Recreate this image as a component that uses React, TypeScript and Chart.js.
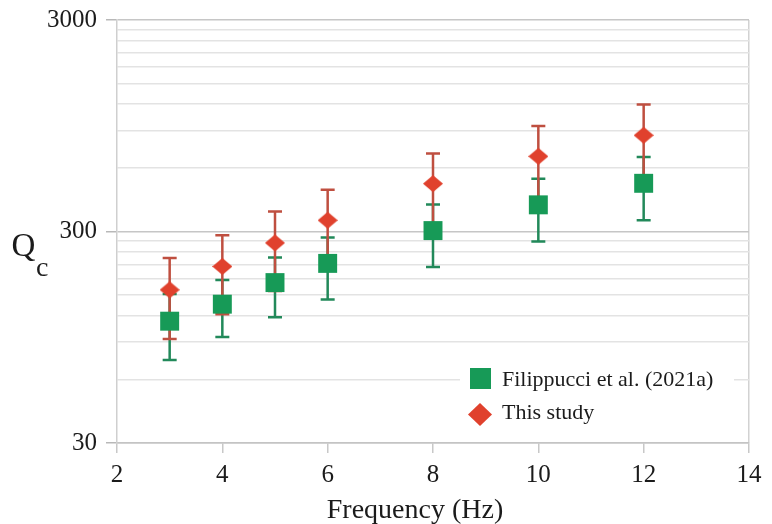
import React, { useEffect, useRef } from 'react';
import { Chart, registerables } from 'chart.js';

Chart.register(...registerables);

// ---- data ----
const frequencies = [3, 4, 5, 6, 8, 10, 12];
const filippucciQc = [113, 136, 172, 212, 303, 401, 507];
const filippucciErr = [39, 41, 54, 69, 99, 132, 168];
const thisStudyQc = [159, 205, 265, 339, 505, 680, 855];
const thisStudyErr = [66, 83, 108, 134, 197, 266, 339];
const xTickValues = [2, 4, 6, 8, 10, 12, 14];
const yGridValues = [30, 60, 90, 120, 150, 180, 210, 240, 270, 300, 600, 900, 1200, 1500, 1800, 2100, 2400, 2700, 3000];
const yLabelValues = [30, 300, 3000];
const seriesNames = ['Filippucci et al. (2021a)', 'This study'];
const xTitle = 'Frequency (Hz)';

// ---- styles ----
const GREEN = '#179a57';
const GREEN_ERR = '#22895a';
const RED = '#e0412d';
const RED_ERR = '#bf4f40';
const SERIF = '"Liberation Serif", "Times New Roman", serif';
const TEXT = '#1b1b1b';

function makeDiamond(w: number, h: number, color: string) {
  const c = document.createElement('canvas');
  c.width = w;
  c.height = h;
  const g = c.getContext('2d')!;
  g.fillStyle = color;
  g.beginPath();
  g.moveTo(w / 2, 0);
  g.lineTo(w, h / 2);
  g.lineTo(w / 2, h);
  g.lineTo(0, h / 2);
  g.closePath();
  g.fill();
  return c;
}

const errorBarPlugin = {
  id: 'errorBars',
  beforeDatasetsDraw(chart: any) {
    const ctx = chart.ctx;
    const xs = chart.scales.x;
    const ys = chart.scales.y;
    const draw = (vals: number[], errs: number[], color: string) => {
      ctx.save();
      ctx.strokeStyle = color;
      ctx.lineWidth = 2.5;
      frequencies.forEach((f, i) => {
        const x = xs.getPixelForValue(f);
        const yt = ys.getPixelForValue(vals[i] + errs[i]);
        const yb = ys.getPixelForValue(vals[i] - errs[i]);
        ctx.beginPath();
        ctx.moveTo(x, yt);
        ctx.lineTo(x, yb);
        ctx.moveTo(x - 7, yt);
        ctx.lineTo(x + 7, yt);
        ctx.moveTo(x - 7, yb);
        ctx.lineTo(x + 7, yb);
        ctx.stroke();
      });
      ctx.restore();
    };
    draw(filippucciQc, filippucciErr, GREEN_ERR);
    draw(thisStudyQc, thisStudyErr, RED_ERR);
  },
};

const decorPlugin = {
  id: 'decor',
  afterDraw(chart: any) {
    const ctx = chart.ctx;
    ctx.save();
    // legend box
    ctx.fillStyle = '#ffffff';
    ctx.fillRect(460, 356, 274, 76);
    ctx.fillStyle = GREEN;
    ctx.fillRect(470, 368, 21, 21);
    ctx.fillStyle = RED;
    ctx.beginPath();
    ctx.moveTo(480, 403);
    ctx.lineTo(492, 414.5);
    ctx.lineTo(480, 426);
    ctx.lineTo(468, 414.5);
    ctx.closePath();
    ctx.fill();
    ctx.fillStyle = TEXT;
    ctx.font = `22px ${SERIF}`;
    ctx.textBaseline = 'alphabetic';
    ctx.textAlign = 'left';
    ctx.fillText(seriesNames[0], 502, 386);
    ctx.fillText(seriesNames[1], 502, 418.5);
    // y title Q_c
    ctx.font = `33px ${SERIF}`;
    ctx.fillText('Q', 11.5, 256);
    ctx.font = `28px ${SERIF}`;
    ctx.fillText('c', 36, 276);
    // x title
    ctx.font = `28px ${SERIF}`;
    ctx.textAlign = 'center';
    ctx.fillText(xTitle, 415, 518);
    ctx.restore();
  },
};

export default function App() {
  const ref = useRef<HTMLCanvasElement | null>(null);

  useEffect(() => {
    document.body.style.margin = '0';
    const canvas = ref.current;
    if (!canvas) return;
    const diamond = makeDiamond(20, 17, RED);

    const chart = new Chart(canvas, {
      type: 'scatter',
      data: {
        datasets: [
          {
            label: seriesNames[1],
            data: frequencies.map((f, i) => ({ x: f, y: thisStudyQc[i] })),
            pointStyle: diamond as any,
            backgroundColor: RED,
            borderColor: RED,
            pointBorderWidth: 0,
          },
          {
            label: seriesNames[0],
            data: frequencies.map((f, i) => ({ x: f, y: filippucciQc[i] })),
            pointStyle: 'rect',
            pointRadius: 13.4,
            backgroundColor: GREEN,
            borderColor: GREEN,
            pointBorderWidth: 0,
          },
        ],
      },
      options: {
        responsive: false,
        animation: false,
        devicePixelRatio: 1,
        layout: { padding: { top: 20, right: 23, left: 0, bottom: 0 } },
        plugins: {
          legend: { display: false },
          tooltip: { enabled: false },
        },
        scales: {
          x: {
            type: 'linear',
            min: 2,
            max: 14,
            afterBuildTicks: (scale: any) => {
              scale.ticks = xTickValues.map((v) => ({ value: v }));
            },
            afterFit: (scale: any) => {
              scale.height = 81;
              scale.paddingLeft = 0;
              scale.paddingRight = 0;
            },
            grid: {
              drawOnChartArea: true,
              color: (c: any) => (c.tick && c.tick.value === 14 ? '#d2d2d2' : 'rgba(0,0,0,0)'),
              tickColor: '#c8c8c8',
              tickLength: 10,
              lineWidth: 1.5,
            },
            border: { display: true, color: '#c4c4c4', width: 1.5 },
            ticks: {
              font: { family: SERIF, size: 25 },
              color: TEXT,
              padding: 7,
              maxRotation: 0,
              autoSkip: false,
            },
          },
          y: {
            type: 'logarithmic',
            min: 30,
            max: 3000,
            afterBuildTicks: (scale: any) => {
              scale.ticks = yGridValues.map((v) => ({ value: v }));
            },
            afterFit: (scale: any) => {
              scale.width = 117;
              scale.paddingTop = 0;
              scale.paddingBottom = 0;
            },
            grid: {
              color: (c: any) => (c.tick && yLabelValues.includes(c.tick.value) ? '#c6c6c6' : '#e3e3e3'),
              tickColor: (c: any) => (c.tick && yLabelValues.includes(c.tick.value) ? '#b8b8b8' : 'rgba(0,0,0,0)'),
              tickLength: 11,
              lineWidth: 1.5,
            },
            border: { display: true, color: '#cfcfcf', width: 1.5 },
            ticks: {
              autoSkip: false,
              font: { family: SERIF, size: 25 },
              color: TEXT,
              padding: 9,
              callback: (v: any) => (yLabelValues.includes(Number(v)) ? String(v) : ''),
            },
          },
        },
      },
      plugins: [errorBarPlugin, decorPlugin],
    } as any);

    return () => chart.destroy();
  }, []);

  return (
    <div style={{ width: 772, height: 524 }}>
      <canvas ref={ref} width={772} height={524} style={{ display: 'block' }} />
    </div>
  );
}
